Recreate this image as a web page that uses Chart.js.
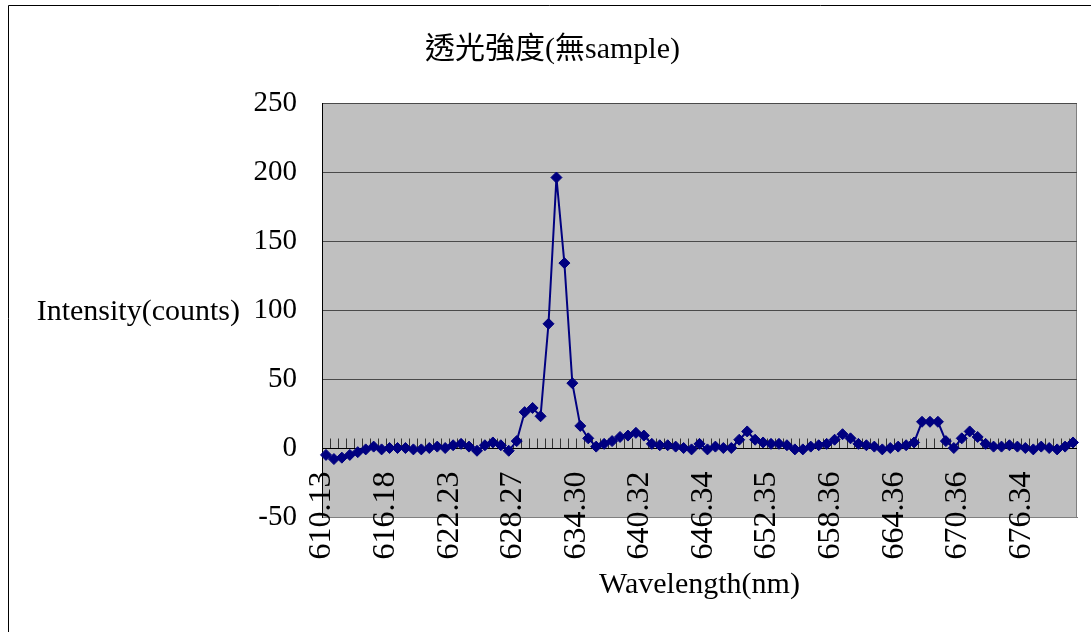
<!DOCTYPE html>
<html>
<head>
<meta charset="utf-8">
<script src="https://cdn.jsdelivr.net/npm/chart.js@4.4.0/dist/chart.umd.min.js"></script>
<style>
  html, body { margin: 0; padding: 0; background: #fff; }
</style>
</head>
<body>
<canvas id="IntensityChart" width="1091" height="632"></canvas>
<script>
const chartTitle = '透光強度(無sample)';
const yAxisTitle = 'Intensity(counts)';
const xAxisTitle = 'Wavelength(nm)';

// wavelength of every sample (only every 8th one is printed on the axis)
const wavelengths = [
    '610.13', '610.89', '611.64', '612.40', '613.16', '613.91', '614.67', '615.42',
    '616.18', '616.94', '617.69', '618.45', '619.21', '619.96', '620.72', '621.47',
    '622.23', '622.99', '623.74', '624.50', '625.25', '626.01', '626.76', '627.52',
    '628.27', '629.02', '629.78', '630.53', '631.29', '632.04', '632.80', '633.55',
    '634.30', '635.05', '635.81', '636.56', '637.31', '638.06', '638.82', '639.57',
    '640.32', '641.07', '641.83', '642.58', '643.33', '644.08', '644.84', '645.59',
    '646.34', '647.09', '647.84', '648.59', '649.35', '650.10', '650.85', '651.60',
    '652.35', '653.10', '653.85', '654.60', '655.36', '656.11', '656.86', '657.61',
    '658.36', '659.11', '659.86', '660.61', '661.36', '662.11', '662.86', '663.61',
    '664.36', '665.11', '665.86', '666.61', '667.36', '668.11', '668.86', '669.61',
    '670.36', '671.11', '671.86', '672.60', '673.35', '674.10', '674.85', '675.59',
    '676.34', '677.09', '677.83', '678.58', '679.32', '680.07', '680.81'
];

const intensity = [
    -5, -8, -7, -5, -3, -1, 1, -1, 0, 0,
    0, -1, -1, 0, 1, 0, 2, 3, 1, -2,
    2, 4, 2, -2, 5, 26, 29, 23, 90, 196,
    134, 47, 16, 7, 1, 3, 5, 8, 9, 11,
    9, 3, 2, 2, 1, 0, -1, 3, -1, 1,
    0, 0, 6, 12, 6, 4, 3, 3, 2, -1,
    -1, 1, 2, 3, 6, 10, 7, 3, 2, 1,
    -1, 0, 1, 2, 4, 19, 19, 19, 5, 0,
    7, 12, 8, 3, 1, 1, 2, 1, 0, -1,
    1, 0, -1, 1, 4
];

const yTicks = [-50, 0, 50, 100, 150, 200, 250];
const labelEvery = 8;

const fontFamily = "'Liberation Serif', 'Noto Sans CJK TC', serif";

//plot background, outer frame, zero axis with inside ticks, its labels, horizontal y title
const excelLook = {
    id: 'excelLook',
    beforeDraw(chart) {
        const { ctx, chartArea: a } = chart;
        ctx.save();
        ctx.strokeStyle = '#000';
        ctx.lineWidth = 1;
        ctx.beginPath();
        ctx.moveTo(8.5, chart.height);
        ctx.lineTo(8.5, 5.5);
        ctx.lineTo(chart.width, 5.5);
        ctx.stroke();

        ctx.fillStyle = '#c0c0c0';
        ctx.fillRect(a.left, a.top, a.right - a.left, a.bottom - a.top);
        ctx.strokeStyle = '#808080';
        ctx.strokeRect(a.left + 0.5, a.top + 0.5, a.right - a.left - 1, a.bottom - a.top);
        ctx.restore();
    },
    beforeDatasetsDraw(chart) {
        const { ctx, chartArea: a, scales: { x, y } } = chart;
        const y0 = Math.round(y.getPixelForValue(0)) + 0.5;
        const step = x.getPixelForValue(1) - x.getPixelForValue(0);
        ctx.save();
        ctx.lineWidth = 1;
        ctx.strokeStyle = '#333';
        ctx.beginPath();
        for (let i = 1; i < wavelengths.length; i++) {
            const px = Math.round(x.getPixelForValue(i) - step / 2) + 0.5;
            ctx.moveTo(px, y0);
            ctx.lineTo(px, y0 - 10);
        }
        ctx.stroke();
        ctx.strokeStyle = '#000';
        ctx.beginPath();
        ctx.moveTo(a.left, y0);
        ctx.lineTo(a.right, y0);
        ctx.stroke();

        // category labels hang from the zero axis, rotated like Excel
        ctx.fillStyle = '#000';
        ctx.font = '32px ' + fontFamily;
        ctx.textAlign = 'right';
        ctx.textBaseline = 'middle';
        for (let i = 0; i < wavelengths.length; i += labelEvery) {
            ctx.save();
            ctx.translate(x.getPixelForValue(i) - 4, y0 + 23);
            ctx.rotate(-Math.PI / 2);
            ctx.fillText(wavelengths[i], 0, 0);
            ctx.restore();
        }

        ctx.font = '30px ' + fontFamily;
        ctx.fillText(yAxisTitle, y.left + 212, (a.top + a.bottom) / 2 + 2);
        ctx.restore();
    }
};

const ctxLine = document.getElementById('IntensityChart');
new Chart(ctxLine, {
    type: 'line',
    data: {
        labels: wavelengths,
        datasets: [{
            label: 'Intensity',
            data: intensity,
            borderColor: '#000080',
            backgroundColor: '#000080',
            borderWidth: 2,
            pointStyle: 'rectRot',
            pointRadius: 5.5,
            pointBorderWidth: 1,
            pointBackgroundColor: '#000080',
            pointBorderColor: '#000080',
            tension: 0
        }]
    },
    options: {
        responsive: false,
        animation: false,
        layout: {
            padding: { left: 28, right: 14, top: 0, bottom: 0 }
        },
        plugins: {
            legend: { display: false },
            tooltip: { enabled: false },
            title: {
                display: true,
                text: chartTitle,
                color: '#000',
                font: { family: fontFamily, size: 30, weight: 'normal' },
                padding: { top: 32, bottom: 35 }
            }
        },
        scales: {
            x: {
                type: 'category',
                offset: true,
                afterFit: (scale) => { scale.height = 115; },
                grid: { display: false, drawTicks: false },
                border: { display: true, color: '#808080', width: 1 },
                ticks: { display: false },
                title: {
                    display: true,
                    text: xAxisTitle,
                    color: '#000',
                    font: { family: fontFamily, size: 30 },
                    padding: { top: 0, bottom: 29 }
                }
            },
            y: {
                min: yTicks[0],
                max: yTicks[yTicks.length - 1],
                afterFit: (scale) => { scale.width = 294; },
                grid: { color: '#4a4a4a', drawTicks: false },
                border: { display: true, color: '#000', width: 1 },
                ticks: {
                    stepSize: yTicks[1] - yTicks[0],
                    padding: 25,
                    color: '#000',
                    font: { family: fontFamily, size: 29 }
                }
            }
        }
    },
    plugins: [excelLook]
});
</script>
</body>
</html>
